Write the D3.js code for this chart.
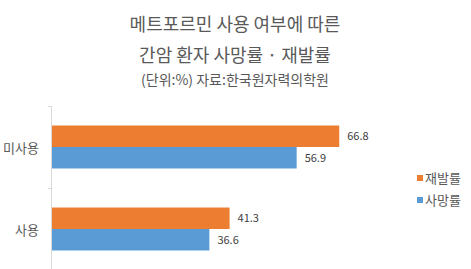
<!DOCTYPE html>
<html>
<head>
<meta charset="utf-8">
<script src="https://cdn.jsdelivr.net/npm/d3@7"></script>
<style>
  body { margin: 0; background: #fff; }
  svg { display: block; font-family: "Noto Sans CJK KR", "Noto Sans", sans-serif; }
</style>
</head>
<body>
<div id="chart"></div>
<script>
// categories and series
const categories = ["미사용", "사용"];
const seriesNames = ["재발률", "사망률"];
const relapse = [66.8, 41.3];   // 재발률
const death = [56.9, 36.6];     // 사망률
const seriesColors = ["#ED7D31", "#5B9BD5"];
const titleLines = ["메트포르민 사용 여부에 따른", "간암 환자 사망률 · 재발률"];
const subtitle = "(단위:%) 자료:한국원자력의학원";

const width = 471, height = 269;
const values = [relapse, death];

const svg = d3.select("#chart").append("svg")
    .attr("width", width)
    .attr("height", height);

// titles
svg.append("text")
    .attr("x", 235).attr("y", 31)
    .attr("text-anchor", "middle")
    .attr("font-size", 18)
    .attr("fill", "#595959")
    .text(titleLines[0]);
svg.append("text")
    .attr("x", 235).attr("y", 62)
    .attr("text-anchor", "middle")
    .attr("font-size", 18)
    .attr("fill", "#595959")
    .text(titleLines[1]);
svg.append("text")
    .attr("x", 235).attr("y", 85)
    .attr("text-anchor", "middle")
    .attr("font-size", 14)
    .attr("fill", "#595959")
    .text(subtitle);

const x = d3.scaleLinear().domain([0, 80]).range([52, 52 + 344]);
const y0 = d3.scaleBand().domain(categories).range([106, 270])
    .paddingInner(0.476).paddingOuter(0.238);
const y1 = d3.scaleBand().domain(seriesNames).range([0, y0.bandwidth()]);

// axis line with ticks between categories
const axis = svg.append("g").attr("stroke", "#d9d9d9").attr("stroke-width", 1);
axis.append("line")
    .attr("x1", x(0) - 0.5).attr("x2", x(0) - 0.5)
    .attr("y1", y0.range()[0]).attr("y2", y0.range()[1]);
d3.range(categories.length + 1).forEach(i => {
    const ty = Math.round(y0.range()[0] + i * y0.step()) + 0.5;
    axis.append("line")
        .attr("x1", x(0) - 4).attr("x2", x(0))
        .attr("y1", ty).attr("y2", ty);
});

// category labels
svg.append("g").selectAll("text")
    .data(categories)
    .join("text")
    .attr("x", 39)
    .attr("y", d => y0(d) + y0.bandwidth() / 2 + 1)
    .attr("dy", "0.35em")
    .attr("text-anchor", "end")
    .attr("font-size", 13)
    .attr("fill", "#595959")
    .text(d => d);

// bars
const groups = svg.append("g").selectAll("g")
    .data(categories)
    .join("g")
    .attr("transform", d => `translate(0,${y0(d)})`);

groups.selectAll("rect")
    .data((d, i) => seriesNames.map((s, j) => ({ s, j, v: values[j][i] })))
    .join("rect")
    .attr("x", x(0))
    .attr("y", d => y1(d.s))
    .attr("width", d => x(d.v) - x(0))
    .attr("height", y1.bandwidth())
    .attr("fill", d => seriesColors[d.j]);

groups.selectAll("text")
    .data((d, i) => seriesNames.map((s, j) => ({ s, j, v: values[j][i] })))
    .join("text")
    .attr("x", d => x(d.v) + 8)
    .attr("y", d => y1(d.s) + y1.bandwidth() / 2)
    .attr("dy", "0.35em")
    .attr("font-size", 11)
    .attr("fill", "#404040")
    .text(d => d3.format(".1f")(d.v));

// legend
const legend = svg.append("g").selectAll("g")
    .data(seriesNames)
    .join("g")
    .attr("transform", (d, i) => `translate(417,${178 + i * 22})`);
legend.append("rect")
    .attr("x", 0).attr("y", -3)
    .attr("width", 6).attr("height", 6)
    .attr("fill", (d, i) => seriesColors[i]);
legend.append("text")
    .attr("x", 8).attr("y", 0)
    .attr("dy", "0.35em")
    .attr("font-size", 13)
    .attr("fill", "#595959")
    .text(d => d);
</script>
</body>
</html>
